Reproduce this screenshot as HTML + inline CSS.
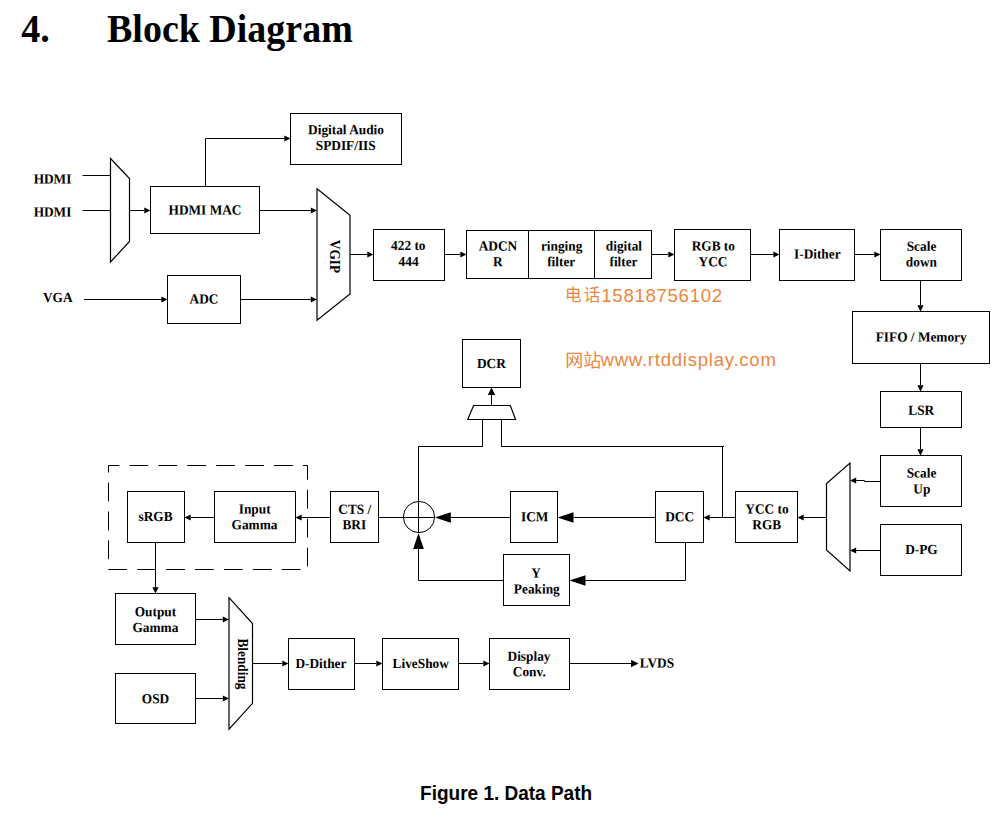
<!DOCTYPE html>
<html lang="en"><head><meta charset="utf-8"><title>Block Diagram</title>
<style>
html,body{margin:0;padding:0;background:#fff;}
body{width:1007px;height:817px;overflow:hidden;}
svg{display:block;}
.b{fill:#fff;stroke:#000;stroke-width:1;}
.m{fill:#fff;stroke:#000;stroke-width:1.2;stroke-linejoin:miter;}
.l{fill:none;stroke:#000;stroke-width:1;}
.a{fill:#000;stroke:none;}
.t{font-family:"Liberation Serif","Times New Roman",serif;font-weight:bold;font-size:13.33px;fill:#000;text-anchor:middle;}
.h{font-family:"Liberation Serif","Times New Roman",serif;font-weight:bold;font-size:38px;fill:#000;}
.c{font-family:"Liberation Sans",Arial,sans-serif;font-weight:bold;font-size:19px;fill:#000;}
.o{font-family:"Liberation Sans","Noto Sans CJK SC",sans-serif;font-size:18px;fill:#EE8640;}
.ol{font-size:18.6px;}
</style></head><body>
<svg width="1007" height="817" viewBox="0 0 1007 817">
<rect x="0" y="0" width="1007" height="817" fill="#fff"/>
<text class="h" transform="translate(21.3 41.9) scale(1 1.04)">4.</text>
<text class="h" transform="translate(107 41.9) scale(1 1.04)">Block Diagram</text>

<rect x="108.5" y="465.5" width="199" height="104" fill="none" stroke="#000" stroke-width="1" stroke-dasharray="18.8 10.1" stroke-dashoffset="7.9"/>
<rect class="b" x="290.5" y="113.5" width="111" height="51"/>
<rect class="b" x="150.5" y="186.5" width="109" height="47"/>
<rect class="b" x="167.5" y="275.5" width="73" height="48"/>
<rect class="b" x="373.5" y="229.5" width="71" height="51"/>
<rect class="b" x="466.5" y="230.5" width="185" height="48"/>
<rect class="b" x="674.5" y="229.5" width="76" height="51"/>
<rect class="b" x="779.5" y="229.5" width="75" height="51"/>
<rect class="b" x="880.5" y="229.5" width="81" height="51"/>
<rect class="b" x="852.5" y="311.5" width="137" height="52"/>
<rect class="b" x="880.5" y="391.5" width="81" height="36"/>
<rect class="b" x="880.5" y="455.5" width="81" height="51"/>
<rect class="b" x="880.5" y="524.5" width="81" height="51"/>
<rect class="b" x="735.5" y="491.5" width="62" height="51"/>
<rect class="b" x="655.5" y="491.5" width="48" height="51"/>
<rect class="b" x="510.5" y="491.5" width="47" height="51"/>
<rect class="b" x="503.5" y="554.5" width="66" height="51"/>
<rect class="b" x="462.5" y="339.5" width="58" height="48"/>
<rect class="b" x="330.5" y="491.5" width="48" height="51"/>
<rect class="b" x="214.5" y="491.5" width="81" height="51"/>
<rect class="b" x="127.5" y="491.5" width="57" height="51"/>
<rect class="b" x="115.5" y="593.5" width="80" height="51"/>
<rect class="b" x="115.5" y="673.5" width="80" height="50"/>
<rect class="b" x="288.5" y="638.5" width="66" height="51"/>
<rect class="b" x="382.5" y="638.5" width="76" height="51"/>
<rect class="b" x="489.5" y="638.5" width="80" height="51"/>
<path class="l" d="M528.5 230.5V278.5M594.5 230.5V278.5"/>
<polygon class="m" points="110.5,158.5 129.5,178.5 129.5,241.5 110.5,262"/>
<polygon class="m" points="317,188.7 350,215.2 350,294 317,320.3"/>
<polygon class="m" points="850,463 850,571 826.5,550 826.5,483.5"/>
<polygon class="m" points="229,597.7 252.5,623.5 252.5,703.3 229,729.2"/>
<polygon class="m" points="473.6,405.5 510.3,405.5 515.6,419.5 467.7,419.5"/>
<path class="l" d="M82.5 175.5 L110.5 175.5"/>
<path class="l" d="M82.5 210.5 L110.5 210.5"/>
<path class="l" d="M129.5 210.5 L144.3 210.5"/>
<polygon class="a" points="150.50,210.50 144.30,213.60 144.30,207.40"/>
<path class="l" d="M205.5 186.5 L205.5 138.5 L284.3 138.5"/>
<polygon class="a" points="290.50,138.50 284.30,141.60 284.30,135.40"/>
<path class="l" d="M259.5 210.5 L310.8 210.5"/>
<polygon class="a" points="317.00,210.50 310.80,213.60 310.80,207.40"/>
<path class="l" d="M84 299.5 L161.3 299.5"/>
<polygon class="a" points="167.50,299.50 161.30,302.60 161.30,296.40"/>
<path class="l" d="M240.5 299.5 L310.8 299.5"/>
<polygon class="a" points="317.00,299.50 310.80,302.60 310.80,296.40"/>
<path class="l" d="M350 254.5 L367.3 254.5"/>
<polygon class="a" points="373.50,254.50 367.30,257.60 367.30,251.40"/>
<path class="l" d="M444.5 254.5 L460.3 254.5"/>
<polygon class="a" points="466.50,254.50 460.30,257.60 460.30,251.40"/>
<path class="l" d="M651.5 254.5 L668.3 254.5"/>
<polygon class="a" points="674.50,254.50 668.30,257.60 668.30,251.40"/>
<path class="l" d="M750.5 254.5 L773.3 254.5"/>
<polygon class="a" points="779.50,254.50 773.30,257.60 773.30,251.40"/>
<path class="l" d="M854.5 254.5 L874.3 254.5"/>
<polygon class="a" points="880.50,254.50 874.30,257.60 874.30,251.40"/>
<path class="l" d="M920.5 280.5 L920.5 305.3"/>
<polygon class="a" points="920.50,311.50 917.40,305.30 923.60,305.30"/>
<path class="l" d="M920.5 363.5 L920.5 385.3"/>
<polygon class="a" points="920.50,391.50 917.40,385.30 923.60,385.30"/>
<path class="l" d="M920.5 427.5 L920.5 449.3"/>
<polygon class="a" points="920.50,455.50 917.40,449.30 923.60,449.30"/>
<path class="l" d="M880.5 481.5 L864.5 481.5 L864.5 480.5 L856.2 480.5"/>
<polygon class="a" points="850.00,480.50 856.20,477.40 856.20,483.60"/>
<path class="l" d="M880.5 550.5 L856.2 550.5"/>
<polygon class="a" points="850.00,550.50 856.20,547.40 856.20,553.60"/>
<path class="l" d="M826.5 517.5 L803.7 517.5"/>
<polygon class="a" points="797.50,517.50 803.70,514.40 803.70,520.60"/>
<path class="l" d="M735.5 517.5 L709.7 517.5"/>
<polygon class="a" points="703.50,517.50 709.70,514.40 709.70,520.60"/>
<path class="l" d="M722.5 517.5 L722.5 446.5"/>
<path class="l" d="M724 446.5 L501.5 446.5 L501.5 419.5"/>
<path class="l" d="M482.5 419.5 L482.5 446.5 L418.5 446.5 L418.5 532.5"/>
<path class="l" d="M491.5 405.5 L491.5 395"/>
<polygon class="a" points="491.50,387.50 495.20,395.00 487.80,395.00"/>
<path class="l" d="M655.5 517.5 L573.5 517.5"/>
<polygon class="a" points="557.50,517.50 573.50,512.15 573.50,522.85"/>
<path class="l" d="M510.5 517.5 L450.8 517.5"/>
<polygon class="a" points="434.80,517.50 450.80,512.15 450.80,522.85"/>
<path class="l" d="M434.5 517.5 L378.5 517.5"/>
<path class="l" d="M330.5 517.5 L301.7 517.5"/>
<polygon class="a" points="295.50,517.50 301.70,514.40 301.70,520.60"/>
<path class="l" d="M214.5 517.5 L190.7 517.5"/>
<polygon class="a" points="184.50,517.50 190.70,514.40 190.70,520.60"/>
<path class="l" d="M155.5 542.5 L155.5 587.3"/>
<polygon class="a" points="155.50,593.50 152.40,587.30 158.60,587.30"/>
<path class="l" d="M685.5 542.5 L685.5 580.5 L585.5 580.5"/>
<polygon class="a" points="569.50,580.50 585.50,575.15 585.50,585.85"/>
<path class="l" d="M503.5 580.5 L418.5 580.5 L418.5 549"/>
<polygon class="a" points="418.50,533.00 423.85,549.00 413.15,549.00"/>
<path class="l" d="M195.5 619.5 L222.8 619.5"/>
<polygon class="a" points="229.00,619.50 222.80,622.60 222.80,616.40"/>
<path class="l" d="M195.5 698.5 L222.8 698.5"/>
<polygon class="a" points="229.00,698.50 222.80,701.60 222.80,695.40"/>
<path class="l" d="M252.5 663.5 L282.3 663.5"/>
<polygon class="a" points="288.50,663.50 282.30,666.60 282.30,660.40"/>
<path class="l" d="M354.5 663.5 L376.3 663.5"/>
<polygon class="a" points="382.50,663.50 376.30,666.60 376.30,660.40"/>
<path class="l" d="M458.5 663.5 L483.3 663.5"/>
<polygon class="a" points="489.50,663.50 483.30,666.60 483.30,660.40"/>
<path class="l" d="M569.5 663.5 L631 663.5"/>
<polygon class="a" points="638.50,663.50 631.00,667.20 631.00,659.80"/>
<circle cx="419" cy="517" r="15.6" fill="none" stroke="#000" stroke-width="1"/>
<text class="t" transform="translate(52.5 183.5) rotate(0.03) scale(1 1.04)">HDMI</text>
<text class="t" transform="translate(52.5 216.5) rotate(0.03) scale(1 1.04)">HDMI</text>
<text class="t" transform="translate(57.8 302) rotate(0.03) scale(1 1.04)">VGA</text>
<text class="t" transform="translate(205 214.5) rotate(0.03) scale(1 1.04)">HDMI MAC</text>
<text class="t" transform="translate(204 303.5) rotate(0.03) scale(1 1.04)">ADC</text>
<text class="t" transform="translate(346 134.3) rotate(0.03) scale(1 1.04)">Digital Audio</text>
<text class="t" transform="translate(345.7 149.9) rotate(0.03) scale(1 1.04)">SPDIF/IIS</text>
<text class="t" transform="translate(408.3 250) rotate(0.03) scale(1 1.04)">422 to</text>
<text class="t" transform="translate(408.6 265.9) rotate(0.03) scale(1 1.04)">444</text>
<text class="t" transform="translate(497.9 250.5) rotate(0.03) scale(1 1.04)">ADCN</text>
<text class="t" transform="translate(497.9 266.3) rotate(0.03) scale(1 1.04)">R</text>
<text class="t" transform="translate(561.6 250.5) rotate(0.03) scale(1 1.04)">ringing</text>
<text class="t" transform="translate(561.2 266.3) rotate(0.03) scale(1 1.04)">filter</text>
<text class="t" transform="translate(623.9 250.5) rotate(0.03) scale(1 1.04)">digital</text>
<text class="t" transform="translate(623.5 266.3) rotate(0.03) scale(1 1.04)">filter</text>
<text class="t" transform="translate(713.3 250.5) rotate(0.03) scale(1 1.04)">RGB to</text>
<text class="t" transform="translate(713 266.3) rotate(0.03) scale(1 1.04)">YCC</text>
<text class="t" transform="translate(817.3 258.4) rotate(0.03) scale(1 1.04)">I-Dither</text>
<text class="t" transform="translate(921.5 250.7) rotate(0.03) scale(1 1.04)">Scale</text>
<text class="t" transform="translate(921.4 266.5) rotate(0.03) scale(1 1.04)">down</text>
<text class="t" transform="translate(921.2 341.4) rotate(0.03) scale(1 1.04)">FIFO / Memory</text>
<text class="t" transform="translate(921.2 414.7) rotate(0.03) scale(1 1.04)">LSR</text>
<text class="t" transform="translate(921.5 477.4) rotate(0.03) scale(1 1.04)">Scale</text>
<text class="t" transform="translate(921.8 493.5) rotate(0.03) scale(1 1.04)">Up</text>
<text class="t" transform="translate(921.4 554.1) rotate(0.03) scale(1 1.04)">D-PG</text>
<text class="t" transform="translate(767 513.6) rotate(0.03) scale(1 1.04)">YCC to</text>
<text class="t" transform="translate(766.8 529.2) rotate(0.03) scale(1 1.04)">RGB</text>
<text class="t" transform="translate(679.6 521.2) rotate(0.03) scale(1 1.04)">DCC</text>
<text class="t" transform="translate(534.7 521.2) rotate(0.03) scale(1 1.04)">ICM</text>
<text class="t" transform="translate(536 577.4) rotate(0.03) scale(1 1.04)">Y</text>
<text class="t" transform="translate(536.8 593.5) rotate(0.03) scale(1 1.04)">Peaking</text>
<text class="t" transform="translate(491.4 368) rotate(0.03) scale(1 1.04)">DCR</text>
<text class="t" transform="translate(354.8 513.7) rotate(0.03) scale(1 1.04)">CTS /</text>
<text class="t" transform="translate(354.3 529.3) rotate(0.03) scale(1 1.04)">BRI</text>
<text class="t" transform="translate(254.7 513.4) rotate(0.03) scale(1 1.04)">Input</text>
<text class="t" transform="translate(254.5 529.2) rotate(0.03) scale(1 1.04)">Gamma</text>
<text class="t" transform="translate(155.5 521) rotate(0.03) scale(1 1.04)">sRGB</text>
<text class="t" transform="translate(155.4 616.2) rotate(0.03) scale(1 1.04)">Output</text>
<text class="t" transform="translate(155.4 632) rotate(0.03) scale(1 1.04)">Gamma</text>
<text class="t" transform="translate(155.5 703.2) rotate(0.03) scale(1 1.04)">OSD</text>
<text class="t" transform="translate(320.9 668) rotate(0.03) scale(1 1.04)">D-Dither</text>
<text class="t" transform="translate(420.7 668) rotate(0.03) scale(1 1.04)">LiveShow</text>
<text class="t" transform="translate(529 660.7) rotate(0.03) scale(1 1.04)">Display</text>
<text class="t" transform="translate(529.3 676.2) rotate(0.03) scale(1 1.04)">Conv.</text>
<text class="t" style="text-anchor:start" transform="translate(639.8 667.4) rotate(0.03) scale(1 1.04)">LVDS</text>
<text class="t" transform="translate(330.4 256.5) rotate(90) scale(1 1.04)">VGIP</text>
<text class="t" transform="translate(238 664) rotate(90) scale(1 1.04)">Blending</text>
<text class="o" style="font-size:16.6px" x="565 583.8" y="301.2">电话</text>
<text class="o ol" x="601.3" y="301.6" textLength="120.8" lengthAdjust="spacing">15818756102</text>
<text class="o" x="565.3" y="366.6">网站</text>
<text class="o ol" x="600.5" y="366.4" textLength="175.4" lengthAdjust="spacing">www.rtddisplay.com</text>
<text class="c" transform="translate(420.1 799.7) scale(1 1.05)">Figure 1. Data Path</text>
</svg></body></html>
